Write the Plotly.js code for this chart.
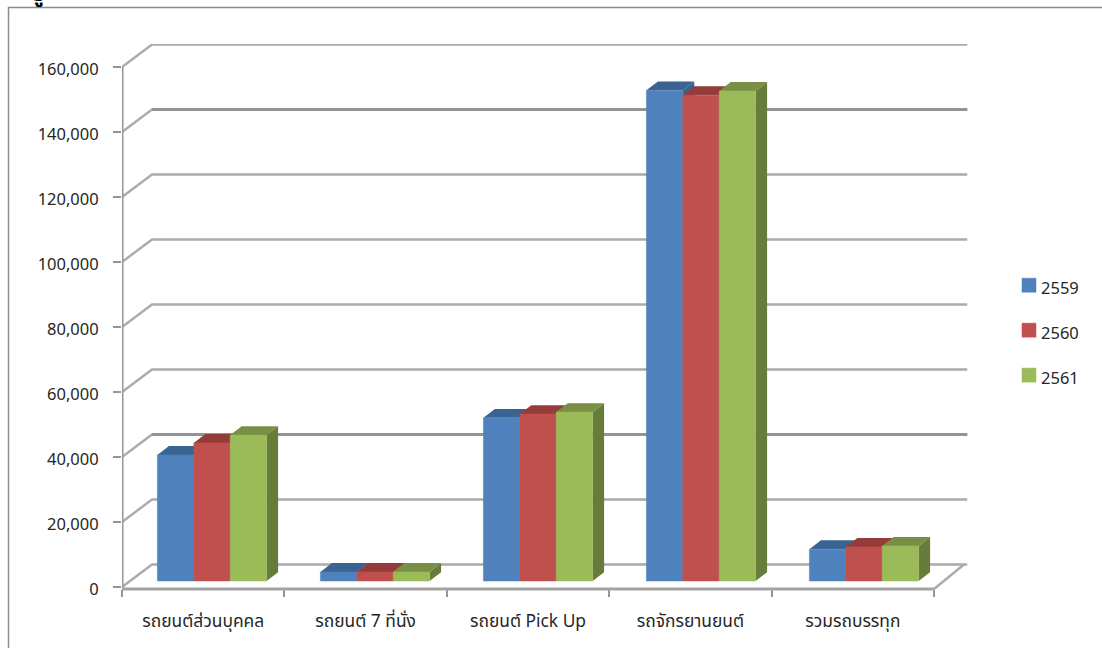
<!DOCTYPE html>
<html>
<head>
<meta charset="utf-8">
<script src="https://cdn.plot.ly/plotly-3.0.1.min.js"></script>
<style>html,body{margin:0;padding:0;background:#fff;overflow:hidden}#chart{width:1102px;height:648px}</style>
</head>
<body>
<div id="chart"></div>
<script>
const categories = ["รถยนต์ส่วนบุคคล", "รถยนต์ 7 ที่นั่ง", "รถยนต์ Pick Up", "รถจักรยานยนต์", "รวมรถบรรทุก"];
const values2559 = [38800, 2800, 50200, 151000, 9800];
const values2560 = [42500, 2800, 51400, 149500, 10500];
const values2561 = [44900, 2800, 52000, 150800, 10800];
const yTicks = [0, 20000, 40000, 60000, 80000, 100000, 120000, 140000, 160000];
const heavyGrid = [40000, 140000];

const seriesList = [
  {name: "2559", values: values2559, front: "#4F81BD", top: "#3A6392", side: "#3A6392"},
  {name: "2560", values: values2560, front: "#C0504D", top: "#953C3B", side: "#953C3B"},
  {name: "2561", values: values2561, front: "#9BBB59", top: "#788F45", side: "#667C3A"}
];

const W = 1102, H = 648;
const CAT_PX = 162.4;          // one category in pixels
const VAL_PX = 520 / 160000;   // one value unit in pixels
const depthX = px => px / CAT_PX;
const depthY = px => px / VAL_PX;

// Box geometry: wall depth, then how far the bars stand off the front plane and their own depth
const WALL_DX = depthX(30), WALL_DY = depthY(22.5);
const BAR_DX = depthX(8.8), BAR_DY = depthY(6);
const BAR_PITCH = 163 / CAT_PX;
const COL_DX = depthX(11.5), COL_DY = depthY(8.8);
const COL_W = depthX(36.4);
const FLOOR_DROP = depthY(2);

const traces = [];

// Walls: a diagonal up the side wall and a long line across the back for each tick value
const gx = [], gy = [], hx = [], hy = [];
yTicks.forEach(v => {
  gx.push(0, WALL_DX, WALL_DX + 5.02, null);
  gy.push(v, v + WALL_DY, v + WALL_DY, null);
  if (heavyGrid.includes(v)) {
    hx.push(WALL_DX, WALL_DX + 5.02, null);
    hy.push(v + WALL_DY, v + WALL_DY, null);
  }
});
// Right-hand edge of the floor
gx.push(5, WALL_DX + 5, null);
gy.push(-FLOOR_DROP, WALL_DY, null);

traces.push({type: "scatter", mode: "lines", x: gx, y: gy, xaxis: "x2", yaxis: "y2",
  line: {color: "#ABABAB", width: 2.4}, hoverinfo: "skip", showlegend: false, zorder: 1});
traces.push({type: "scatter", mode: "lines", x: hx, y: hy, xaxis: "x2", yaxis: "y2",
  line: {color: "#949494", width: 3.2}, hoverinfo: "skip", showlegend: false, zorder: 1});

// Front edges of the box: the value axis upright and the floor's front line
traces.push({type: "scatter", mode: "lines", x: [0, 0], y: [-FLOOR_DROP * 1.5, 160000], xaxis: "x2", yaxis: "y2",
  line: {color: "#969696", width: 3}, hoverinfo: "skip", showlegend: false, zorder: 1});
traces.push({type: "scatter", mode: "lines", x: [0, 5], y: [-FLOOR_DROP, -FLOOR_DROP], xaxis: "x2", yaxis: "y2",
  line: {color: "#A3A3A3", width: 3}, hoverinfo: "skip", showlegend: false, zorder: 1});

// Carries the category axis and the value axis
traces.push({type: "scatter", mode: "none", x: categories, y: values2559, xaxis: "x", yaxis: "y",
  hoverinfo: "skip", showlegend: false});

seriesList.forEach((s, k) => {
  const tx = [], ty = [], sx = [], sy = [], cx = [];
  s.values.forEach((v, i) => {
    const left = 0.5 + i * BAR_PITCH + BAR_DX + (k - 1.5) * COL_W;
    const right = left + COL_W;
    const low = BAR_DY, high = BAR_DY + v;
    tx.push(left, right, right + COL_DX, left + COL_DX, left, null);
    ty.push(high, high, high + COL_DY, high + COL_DY, high, null);
    sx.push(right, right + COL_DX, right + COL_DX, right, right, null);
    sy.push(low, low + COL_DY, high + COL_DY, high, low, null);
    cx.push(left + COL_W / 2);
  });
  const z = 2 + k * 3;
  traces.push({type: "scatter", mode: "lines", x: sx, y: sy, xaxis: "x2", yaxis: "y2", fill: "toself",
    fillcolor: s.side, line: {width: 0, color: s.side}, hoverinfo: "skip", showlegend: false, zorder: z});
  traces.push({type: "scatter", mode: "lines", x: tx, y: ty, xaxis: "x2", yaxis: "y2", fill: "toself",
    fillcolor: s.top, line: {width: 0, color: s.top}, hoverinfo: "skip", showlegend: false, zorder: z + 1});
  traces.push({type: "bar", name: s.name, x: cx, y: s.values, base: BAR_DY, width: COL_W, xaxis: "x2", yaxis: "y2",
    marker: {color: s.front, line: {color: s.front, width: 0.5}}, legendgroup: s.name, zorder: z + 2});
});

const fontStack = "'Noto Sans Thai','Noto Sans','Open Sans',sans-serif";
const axisFont = {family: fontStack, size: 16.5, color: "#262626"};
const categoryFont = {family: fontStack, size: 17.4, color: "#262626"};

const layout = {
  width: W, height: H,
  margin: {l: 0, r: 0, t: 0, b: 0},
  paper_bgcolor: "#FFFFFF", plot_bgcolor: "rgba(0,0,0,0)",
  barmode: "overlay",
  font: axisFont,
  xaxis: {
    type: "category", categoryorder: "array", categoryarray: categories,
    domain: [122 / W, 934 / W], anchor: "y", range: [-0.5, 4.5],
    tickson: "boundaries", ticks: "outside", ticklen: 7, tickwidth: 2, tickcolor: "#959595",
    showline: false, showgrid: false, zeroline: false,
    tickfont: categoryFont, ticklabelstandoff: 20, fixedrange: true
  },
  yaxis: {
    domain: [1 - 589 / H, 1 - 67 / H], anchor: "x", range: [-615, 160000],
    tickmode: "array", tickvals: yTicks, ticktext: yTicks.map(v => v.toLocaleString("en-US")),
    ticks: "outside", ticklen: 8, tickwidth: 2, tickcolor: "#959595",
    showline: false, showgrid: false, zeroline: false,
    tickfont: axisFont, ticklabelstandoff: 11, ticklabelshift: 2, fixedrange: true
  },
  xaxis2: {
    domain: [122 / W, 968 / W], anchor: "y2", range: [0, 846 / CAT_PX],
    visible: false, fixedrange: true
  },
  yaxis2: {
    domain: [1 - 596 / H, 1 - 44 / H], anchor: "x2", range: [-9 / VAL_PX, 543 / VAL_PX],
    visible: false, fixedrange: true
  },
  showlegend: true,
  legend: {
    x: 1009 / W, y: 1 - 268 / H, xanchor: "left", yanchor: "top",
    bgcolor: "rgba(0,0,0,0)", traceorder: "grouped", tracegroupgap: 20.5,
    font: axisFont, itemwidth: 30, itemclick: false, itemdoubleclick: false
  },
  shapes: [
    {type: "line", xref: "paper", yref: "paper", x0: 8 / W, x1: 1, y0: 1 - 7.5 / H, y1: 1 - 7.5 / H,
      line: {color: "#8C8C8C", width: 1.5}},
    {type: "line", xref: "paper", yref: "paper", x0: 8.5 / W, x1: 8.5 / W, y0: 1 - 7 / H, y1: 0,
      line: {color: "#8C8C8C", width: 1.5}}
  ],
  annotations: [
    {text: "รู", xref: "paper", yref: "paper", x: 46 / W, y: 1, xanchor: "right", yanchor: "bottom", yshift: -13,
      showarrow: false, font: {family: fontStack, size: 22, color: "#000", weight: 700}}
  ]
};

Plotly.newPlot("chart", traces, layout, {displayModeBar: false, responsive: false}).then(() => {
  // Tighten the legend keys: larger swatches with the labels closer to them
  document.querySelectorAll("#chart .legend .legendpoints path").forEach(p => {
    p.setAttribute("d", "M7,7H-7V-7H7Z");
  });
  document.querySelectorAll("#chart .legend text.legendtext").forEach(t => {
    t.setAttribute("x", String(parseFloat(t.getAttribute("x")) - 8));
    t.setAttribute("y", String(parseFloat(t.getAttribute("y")) + 2));
  });
});
</script>
</body>
</html>
